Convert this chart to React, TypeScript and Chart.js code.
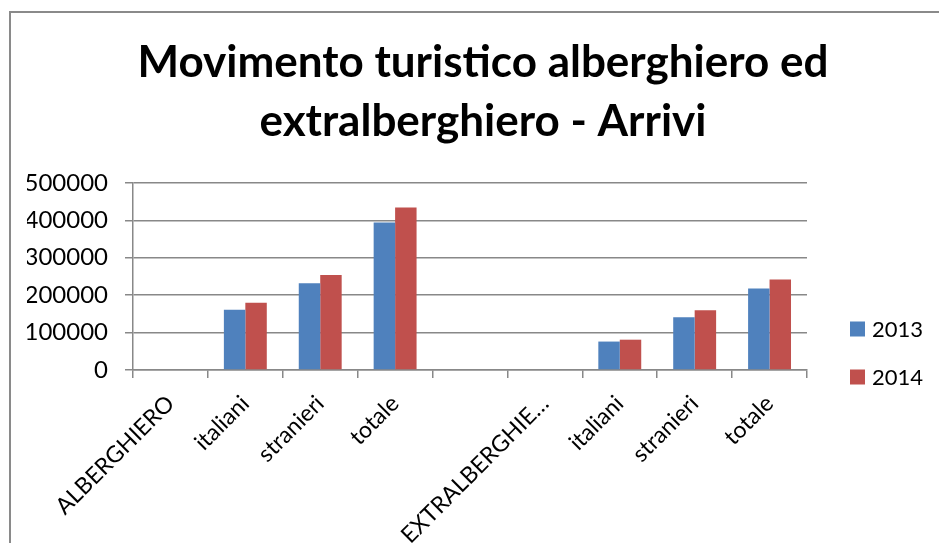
import React, { useEffect, useRef } from "react";
import { Chart, registerables } from "chart.js";

Chart.register(...registerables);

const titleLines = ["Movimento turistico alberghiero ed", "extralberghiero - Arrivi"];
const categories = ["ALBERGHIERO", "italiani", "stranieri", "totale", "", "EXTRALBERGHIE…", "italiani", "stranieri", "totale"];
const arrivi2013 = [null, 161000, 232000, 394000, null, null, 76000, 141000, 218000];
const arrivi2014 = [null, 180000, 254000, 434000, null, null, 81000, 160000, 242000];
const seriesLabels = ["2013", "2014"];
const seriesColors = ["#4F81BD", "#C0504D"];
const yMin = 0;
const yMax = 500000;
const yStep = 100000;

const FONT = "Lato, 'Open Sans', sans-serif";
const GRID = "#888888";

const sideLegend = {
  id: "sideLegend",
  afterDraw(chart: any) {
    const { ctx, chartArea } = chart;
    ctx.save();
    ctx.font = `22px ${FONT}`;
    ctx.textBaseline = "middle";
    ctx.textAlign = "left";
    chart.data.datasets.forEach((ds: any, i: number) => {
      const x = chartArea.right + 43;
      const y = chartArea.bottom - 41 + i * 48;
      ctx.fillStyle = ds.backgroundColor;
      ctx.fillRect(x, y - 7.5, 15, 15);
      ctx.fillStyle = "#000";
      ctx.fillText(ds.label, x + 22, y + 1);
    });
    ctx.restore();
  },
};

export default function App() {
  const ref = useRef<HTMLCanvasElement | null>(null);
  useEffect(() => {
    if (!ref.current) return;
    const chart = new Chart(ref.current, {
      type: "bar",
      data: {
        labels: categories,
        datasets: [
          { label: seriesLabels[0], data: arrivi2013, backgroundColor: seriesColors[0] },
          { label: seriesLabels[1], data: arrivi2014, backgroundColor: seriesColors[1] },
        ],
      },
      plugins: [sideLegend],
      options: {
        animation: false,
        responsive: false,
        devicePixelRatio: 1,
        layout: { padding: { left: 27, right: 0, top: 0, bottom: 0 } },
        datasets: { bar: { categoryPercentage: 0.573, barPercentage: 1 } },
        plugins: {
          legend: { display: false },
          tooltip: { enabled: false },
          title: {
            display: true,
            text: titleLines,
            color: "#000",
            font: { family: FONT, size: 44, weight: "bold", lineHeight: 1.34 },
            padding: { top: 33, bottom: 32 },
          },
        },
        scales: {
          x: {
            grid: { display: true, drawOnChartArea: false, color: GRID, lineWidth: 1.5, tickLength: 8, offset: true },
            border: { display: true, color: GRID, width: 1.5 },
            ticks: {
              color: "#000",
              font: { family: FONT, size: 23 },
              minRotation: 45,
              maxRotation: 45,
              autoSkip: false,
              padding: 12,
            },
            afterFit: (s: any) => {
              s.height = 173;
            },
          },
          y: {
            min: yMin,
            max: yMax,
            grid: { color: GRID, lineWidth: 1.5, tickLength: 8 },
            border: { display: true, color: GRID, width: 1.5 },
            ticks: {
              stepSize: yStep,
              color: "#000",
              font: { family: FONT, size: 24 },
              padding: 17,
              callback: (v: any) => String(v),
            },
            afterFit: (s: any) => {
              s.width = 106;
            },
          },
          spacer: {
            type: "linear",
            position: "right",
            display: true,
            grid: { display: false },
            border: { display: false },
            ticks: { display: false },
            afterFit: (s: any) => {
              s.width = 132;
            },
          },
        },
      },
    } as any);
    return () => chart.destroy();
  }, []);

  return (
    <div style={{ position: "fixed", left: 0, top: 0, width: 939, height: 543, overflow: "hidden", background: "#fff" }}>
      <div
        style={{
          position: "absolute",
          left: 9,
          top: 11,
          width: 1000,
          height: 1000,
          border: "2px solid #8a8a8a",
        }}
      />
      <canvas ref={ref} width={939} height={543} style={{ position: "absolute", left: 0, top: 0 }} />
    </div>
  );
}
